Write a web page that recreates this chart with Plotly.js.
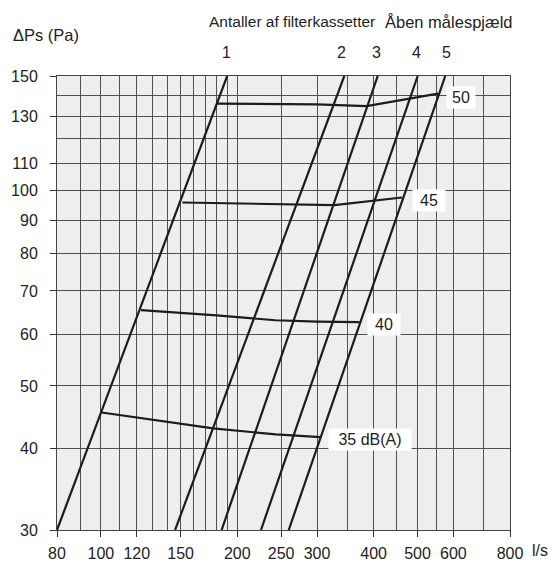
<!DOCTYPE html>
<html>
<head>
<meta charset="utf-8">
<script src="https://cdn.plot.ly/plotly-3.0.1.min.js"></script>
<style>
html,body{margin:0;padding:0;background:#fff;}
#chart{width:552px;height:561px;}
</style>
</head>
<body>
<div id="chart"></div>
<script>
// ---- data ----
const xTickVals = [80, 100, 120, 150, 200, 250, 300, 400, 500, 600, 800];
const xTickText = ['80', '100', '120', '150', '200', '250', '300', '400', '500', '600', '800'];
const xGridVals = [90, 110, 130, 140, 160, 170, 180, 190, 350, 450, 550, 700];
const yTickVals = [30, 40, 50, 60, 70, 80, 90, 100, 110, 130, 150];
const yGridVals = [120, 140];

// filter-cassette lines (1..5): straight lines on log-log scale
const filterNames = ['1', '2', '3', '4', '5'];
const filterX = [[80, 190], [145.8, 344.6], [184.7, 408.4], [225.6, 500.4], [259.8, 575.7]];
const filterY = [[30, 150], [30, 150], [30, 150], [30, 150], [30, 150]];

// sound level lines dB(A)
const dbNames = ['50', '45', '40', '35 dB(A)'];
const db50x = [180.5, 300, 386, 555];
const db50y = [136, 135.6, 134.8, 140.9];
const db45x = [151.3, 250, 327.5, 462];
const db45y = [95.8, 95.3, 94.9, 97.5];
const db40x = [122.6, 180, 243, 300, 372];
const db40y = [65.4, 64.2, 63.1, 62.8, 62.7];
const db35x = [100.4, 149.5, 177, 243.5, 305];
const db35y = [45.5, 43.8, 43.0, 42.1, 41.7];

const FONT = 'Liberation Sans, Arial, sans-serif';
const LINE = '#1c1c1c';
const GRID = '#505050';

const traces = [];
for (let i = 0; i < filterNames.length; i++) {
  traces.push({x: filterX[i], y: filterY[i], mode: 'lines', type: 'scatter',
    line: {color: LINE, width: 2.2}, hoverinfo: 'skip', showlegend: false});
}
[[db50x, db50y], [db45x, db45y], [db40x, db40y], [db35x, db35y]].forEach(function (d) {
  traces.push({x: d[0], y: d[1], mode: 'lines', type: 'scatter',
    line: {color: LINE, width: 2.2}, hoverinfo: 'skip', showlegend: false});
});

// label positions (data coordinates)
const dbLabelX = [625, 530.6, 422.2, 393];
const dbLabelY = [138.9, 96.5, 62.2, 41.4];
const dbLabelW = [28, 32, 32, 82];

const annotations = [];
for (let i = 0; i < dbNames.length; i++) {
  annotations.push({
    x: Math.log10(dbLabelX[i]), y: Math.log10(dbLabelY[i]), xref: 'x', yref: 'y',
    text: dbNames[i], showarrow: false, bgcolor: '#ffffff', borderpad: 0,
    width: dbLabelW[i], height: 21, align: 'center',
    font: {family: FONT, size: 16, color: '#222'}
  });
}
// top numbers of filter lines
const topNumX = [226, 341, 376, 416, 446];
for (let i = 0; i < filterNames.length; i++) {
  annotations.push({
    x: (topNumX[i] - 57) / 453, y: (530 - 52) / 454, xref: 'paper', yref: 'paper',
    text: filterNames[i], showarrow: false, xanchor: 'center', yanchor: 'middle',
    font: {family: FONT, size: 16, color: '#222'}
  });
}
annotations.push({x: (207 - 57) / 453, y: (530 - 22) / 454, xref: 'paper', yref: 'paper',
  text: 'Antaller af filterkassetter', showarrow: false, xanchor: 'left', yanchor: 'middle',
  font: {family: FONT, size: 15.5, color: '#222'}});
annotations.push({x: (383 - 57) / 453, y: (530 - 22) / 454, xref: 'paper', yref: 'paper',
  text: 'Åben målespjæld', showarrow: false, xanchor: 'left', yanchor: 'middle',
  font: {family: FONT, size: 16.5, color: '#222'}});
annotations.push({x: (11 - 57) / 453, y: (530 - 35) / 454, xref: 'paper', yref: 'paper',
  text: 'ΔPs (Pa)', showarrow: false, xanchor: 'left', yanchor: 'middle',
  font: {family: FONT, size: 16.5, color: '#222'}});
annotations.push({x: (530 - 57) / 453, y: (530 - 550) / 454, xref: 'paper', yref: 'paper',
  text: 'l/s', showarrow: false, xanchor: 'left', yanchor: 'middle',
  font: {family: FONT, size: 16, color: '#222'}});

const layout = {
  width: 552, height: 561,
  margin: {l: 57, r: 42, t: 76, b: 31, pad: 0},
  paper_bgcolor: '#ffffff', plot_bgcolor: '#eeeeee',
  showlegend: false,
  font: {family: FONT, size: 16, color: '#222'},
  xaxis: {
    type: 'log', range: [Math.log10(80), Math.log10(800)],
    tickmode: 'array', tickvals: xTickVals, ticktext: xTickText,
    ticks: 'outside', ticklen: 6, tickcolor: '#333', tickwidth: 1,
    showgrid: true, gridcolor: GRID, gridwidth: 1, zeroline: false,
    showline: true, linecolor: '#444', linewidth: 1, mirror: true,
    minor: {tickmode: 'array', tickvals: xGridVals, showgrid: true, gridcolor: GRID, gridwidth: 1, ticks: ''},
    tickfont: {family: FONT, size: 16, color: '#222'}, ticklabelstandoff: 3, fixedrange: true
  },
  yaxis: {
    type: 'log', range: [Math.log10(30), Math.log10(150)],
    tickmode: 'array', tickvals: yTickVals, ticktext: yTickVals.map(String),
    ticks: 'outside', ticklen: 6, tickcolor: '#333', tickwidth: 1,
    showgrid: true, gridcolor: GRID, gridwidth: 1, zeroline: false,
    showline: true, linecolor: '#444', linewidth: 1, mirror: true,
    minor: {tickmode: 'array', tickvals: yGridVals, showgrid: true, gridcolor: GRID, gridwidth: 1, ticks: ''},
    tickfont: {family: FONT, size: 16, color: '#222'}, ticklabelstandoff: 9, fixedrange: true
  },
  annotations: annotations
};

Plotly.newPlot('chart', traces, layout, {displayModeBar: false, staticPlot: true});
</script>
</body>
</html>
